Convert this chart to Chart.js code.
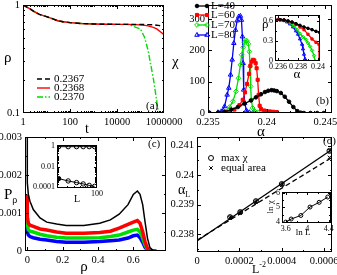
<!DOCTYPE html>
<html>
<head>
<meta charset="utf-8">
<script src="https://cdn.jsdelivr.net/npm/chart.js@4.4.1/dist/chart.umd.min.js"></script>
<style>
  html, body { margin: 0; padding: 0; background: #fff; }
  #wrap { position: relative; width: 337px; height: 275px; overflow: hidden; }
  canvas { position: absolute; left: 0; top: 0; }
</style>
</head>
<body>
<div id="wrap"></div>
<script>
// ---------- data ----------

// (a) rho(t) for three alphas
const tA = [1, 2, 3, 5, 10, 20, 30, 50, 100, 300, 1000, 3000, 10000, 30000, 100000, 150000, 210000, 350000, 490000, 570000, 700000, 1000000];
const rho2367 = [1, 0.92, 0.867, 0.82, 0.78, 0.74, 0.715, 0.70, 0.686, 0.674, 0.667, 0.664, 0.662, 0.661, 0.66, 0.659, 0.658, 0.655, 0.65, 0.647, 0.643, 0.635];
const rho2368 = [1, 0.92, 0.867, 0.82, 0.78, 0.74, 0.715, 0.70, 0.686, 0.674, 0.667, 0.664, 0.662, 0.661, 0.655, 0.648, 0.64, 0.62, 0.6, 0.585, 0.565, 0.53];
const rho2370 = [1, 0.92, 0.867, 0.82, 0.78, 0.74, 0.715, 0.70, 0.686, 0.674, 0.667, 0.664, 0.662, 0.66, 0.6, 0.5, 0.38, 0.21, 0.13, 0.1, 0.075, 0.05];
const alphaNames = ['0.2367', '0.2368', '0.2370'];

// (b) susceptibility chi(alpha)
const sizes = ['L=40', 'L=60', 'L=70', 'L=80'];
const aL40 = [0.23514, 0.23585, 0.23641, 0.23697, 0.23754, 0.2381, 0.23866, 0.23908, 0.23951, 0.23985, 0.24013, 0.24041, 0.24063, 0.24086, 0.2412, 0.24154, 0.2419, 0.24227, 0.24261, 0.24289, 0.24317, 0.24373, 0.2443, 0.24486];
const chiL40 = [0, 1, 4, 11, 19, 30, 40, 50, 60, 67, 71, 73, 72, 70, 64, 52, 36, 19, 6, 1, 0, 0, 0, 0];
const aL60 = [0.23599, 0.23669, 0.23725, 0.23768, 0.23796, 0.23815, 0.23832, 0.23849, 0.23861, 0.23872, 0.23883, 0.23894, 0.23906, 0.23914, 0.23923, 0.23931, 0.2394, 0.23951, 0.23979, 0.23999, 0.24027, 0.24056, 0.24085];
const chiL60 = [0, 3, 11, 25, 42, 66, 93, 125, 151, 164, 170, 168, 159, 143, 106, 58, 23, 13, 8, 6, 5, 4, 3];
const aL70 = [0.23599, 0.23641, 0.23683, 0.23711, 0.23739, 0.23759, 0.23776, 0.23787, 0.23799, 0.2381, 0.23821, 0.23832, 0.23844, 0.23852, 0.23858, 0.23863, 0.23869, 0.2388, 0.239, 0.23923, 0.23951];
const chiL70 = [0, 4, 19, 37, 69, 111, 154, 186, 210, 225, 232, 230, 221, 196, 148, 85, 42, 16, 5, 2, 0];
const aL80 = [0.23514, 0.23585, 0.23613, 0.23641, 0.23663, 0.23677, 0.23692, 0.23706, 0.2372, 0.23734, 0.23748, 0.23762, 0.23776, 0.23785, 0.23793, 0.23799, 0.23804, 0.23813, 0.23827, 0.23852, 0.2388];
const chiL80 = [0, 2, 5, 21, 58, 80, 122, 170, 223, 265, 295, 308, 310, 297, 244, 159, 74, 32, 8, 2, 0];

// (b) inset: rho(alpha)
const inA40 = [0.2357, 0.2362, 0.2366, 0.237, 0.2374, 0.2378, 0.2382, 0.2386, 0.239, 0.2394, 0.2398, 0.2402];
const inR40 = [0.62, 0.62, 0.615, 0.6, 0.585, 0.56, 0.535, 0.51, 0.49, 0.47, 0.445, 0.42];
const inA60 = [0.2357, 0.2362, 0.2366, 0.237, 0.2374, 0.2378, 0.2382, 0.2386, 0.239, 0.2394, 0.2398, 0.2401, 0.2401];
const inR60 = [0.62, 0.62, 0.615, 0.6, 0.58, 0.55, 0.51, 0.47, 0.4, 0.33, 0.28, 0.25, 0];
const inA70 = [0.2357, 0.2362, 0.2366, 0.237, 0.2373, 0.2376, 0.2379, 0.2382, 0.2385, 0.2388, 0.239, 0.2392, 0.2394, 0.2396, 0.2397];
const inR70 = [0.62, 0.62, 0.61, 0.59, 0.56, 0.52, 0.47, 0.41, 0.36, 0.32, 0.27, 0.22, 0.16, 0.08, 0.0];
const inA80 = [0.2357, 0.236, 0.2363, 0.2366, 0.2369, 0.2372, 0.2375, 0.2378, 0.238, 0.2382, 0.2384, 0.2385, 0.2386, 0.2387, 0.2388];
const inR80 = [0.62, 0.62, 0.615, 0.605, 0.585, 0.555, 0.51, 0.45, 0.4, 0.33, 0.25, 0.18, 0.1, 0.03, 0];

// (c) distributions P(rho)
const rhoC = [0, 0, 0.006, 0.015, 0.034, 0.072, 0.11, 0.166, 0.22, 0.32, 0.41, 0.47, 0.52, 0.57, 0.6, 0.623, 0.638, 0.653, 0.666, 0.68, 0.694, 0.713, 0.73];
const pL40 = [0.003, 0.0018, 0.00149, 0.00131, 0.00109, 0.00087, 0.00076, 0.00071, 0.00067, 0.00067, 0.00073, 0.00082, 0.00097, 0.00122, 0.00149, 0.00158, 0.00149, 0.00122, 0.00078, 0.00034, 0.00009, 0.00001, 0];
const pL60 = [0.00149, 0.0009, 0.00073, 0.00068, 0.00065, 0.00058, 0.00055, 0.0005, 0.00047, 0.00047, 0.00049, 0.00052, 0.0006, 0.0007, 0.00076, 0.0008, 0.00073, 0.00051, 0.00025, 0.00007, 0, 0, 0];
const pL70 = [0.00118, 0.0007, 0.00056, 0.00052, 0.0005, 0.00044, 0.0004, 0.00036, 0.00034, 0.00034, 0.00035, 0.00038, 0.00042, 0.0005, 0.00055, 0.00057, 0.0005, 0.00034, 0.00016, 0.00004, 0, 0, 0];
const pL80 = [0.00096, 0.0005, 0.00042, 0.00038, 0.00035, 0.00031, 0.00029, 0.00025, 0.00023, 0.00023, 0.00025, 0.00027, 0.00029, 0.00034, 0.0004, 0.00042, 0.00035, 0.00023, 0.0001, 0.00003, 0, 0, 0];

// (c) inset: probabilities vs L
const inL = [31.5, 42, 54, 66, 79, 93];
const inTop = [0.86, 0.86, 0.86, 0.86, 0.86, 0.86];
const inBottom = [0.00066, 0.00039, 0.00027, 0.0002, 0.000145, 0.000117];

// (d) pseudo-critical points, x = 1/L^2 for L = 80, 70, 60, 50, 40
const invL2 = [0.000156, 0.000204, 0.000278, 0.0004, 0.000625];
const alphaMaxChi = [0.23858, 0.23875, 0.23912, 0.2397, 0.24082];
const alphaEqArea = [0.23855, 0.23872, 0.23908, 0.23966, 0.2406];
const alphaErr = [0.00004, 0.00004, 0.00004, 0.00004, 0.00004];
const fitX = [0, 0.000637];
const fitMaxChi = [0.23777, 0.24087];
const fitEqArea = [0.2378, 0.2406];

// (d) inset: ln chi vs ln L
const lnL = [3.6, 3.7, 3.88, 4.05, 4.22, 4.38];
const lnChi = [4.0, 4.21, 4.45, 5.02, 5.34, 5.7];

// ---------- helpers ----------
const W = 337, H = 275;
const serif = "'Liberation Serif', 'DejaVu Serif', serif";
const pts = (xs, ys) => xs.map((x, i) => ({ x: x, y: ys[i] }));
const logMinor = (lo, hi) => {
  const out = [];
  for (let d = lo; d < hi; d *= 10) for (let k = 2; k <= 9; k++) out.push(d * k);
  return out;
};

function makeChart(spec) {
  const b = spec.box;
  const cv = document.createElement('canvas');
  cv.width = W; cv.height = H;
  document.getElementById('wrap').appendChild(cv);
  const fs = spec.fontSize || 10.5;
  const yW = Math.min(36, b.l), xH = Math.min(24, H - b.b);
  const axis = (ax, horiz) => ({
    type: ax.type || 'linear',
    min: ax.min, max: ax.max,
    grid: { display: false, drawTicks: false },
    border: { display: false },
    ticks: {
      autoSkip: false, maxRotation: 0, minRotation: 0,
      padding: ax.pad != null ? ax.pad : 3,
      color: '#000', font: { family: serif, size: fs },
      callback: (v, i) => ax.labels[i]
    },
    afterBuildTicks: s => { s.ticks = ax.ticks.map(v => ({ value: v })); },
    afterFit: s => {
      if (horiz) { s.height = xH; s.paddingLeft = 0; s.paddingRight = 0; }
      else { s.width = yW; s.paddingTop = 0; s.paddingBottom = 0; }
    }
  });

  const deco = {
    id: 'deco',
    beforeDraw(chart) {
      if (!spec.fill) return;
      const a = chart.chartArea, ctx = chart.ctx;
      ctx.save();
      ctx.fillStyle = '#fff';
      ctx.fillRect(a.left, a.top, a.right - a.left, a.bottom - a.top);
      ctx.restore();
    },
    afterDatasetsDraw(chart) {
      const { ctx, chartArea: a, scales: { x, y } } = chart;
      ctx.save();
      // error bars
      chart.data.datasets.forEach(ds => {
        if (!ds.errY) return;
        ctx.strokeStyle = '#000'; ctx.lineWidth = 1;
        ds.data.forEach((p, i) => {
          const px = Math.round(x.getPixelForValue(p.x)) + 0.5;
          const y1 = y.getPixelForValue(p.y - ds.errY[i]), y2 = y.getPixelForValue(p.y + ds.errY[i]);
          ctx.beginPath();
          ctx.moveTo(px, y1); ctx.lineTo(px, y2);
          ctx.moveTo(px - 2, y1); ctx.lineTo(px + 2, y1);
          ctx.moveTo(px - 2, y2); ctx.lineTo(px + 2, y2);
          ctx.stroke();
        });
      });
      // frame and inward ticks
      const big = spec.tick || 4, small = spec.minorTick || 2;
      ctx.strokeStyle = '#000'; ctx.lineWidth = 1;
      ctx.beginPath();
      const hx = (vals, len) => vals.forEach(v => {
        const p = Math.round(x.getPixelForValue(v)) + 0.5;
        if (p < a.left || p > a.right) return;
        ctx.moveTo(p, a.bottom); ctx.lineTo(p, a.bottom - len);
        ctx.moveTo(p, a.top); ctx.lineTo(p, a.top + len);
      });
      const vy = (vals, len) => vals.forEach(v => {
        const p = Math.round(y.getPixelForValue(v)) + 0.5;
        if (p < a.top || p > a.bottom) return;
        ctx.moveTo(a.left, p); ctx.lineTo(a.left + len, p);
        ctx.moveTo(a.right, p); ctx.lineTo(a.right - len, p);
      });
      hx(spec.x.ticks, big); hx(spec.x.minor || [], small);
      vy(spec.y.ticks, big); vy(spec.y.minor || [], small);
      ctx.stroke();
      ctx.strokeRect(Math.round(a.left) + 0.5, Math.round(a.top) + 0.5,
        Math.round(a.right - a.left) - 1, Math.round(a.bottom - a.top) - 1);
      ctx.restore();
    },
    afterDraw(chart) {
      const ctx = chart.ctx;
      ctx.save();
      ctx.fillStyle = '#000';
      ctx.textBaseline = 'middle';
      (spec.texts || []).forEach(t => {
        ctx.save();
        ctx.translate(t.x, t.y);
        if (t.rot) ctx.rotate(t.rot);
        ctx.font = (t.size || 10) + 'px ' + serif;
        ctx.textAlign = t.align || 'left';
        ctx.fillText(t.t, 0, 0);
        let w = ctx.measureText(t.t).width;
        if (t.align === 'center') w = w / 2;
        if (t.sub) {
          ctx.font = (t.subSize || 8) + 'px ' + serif;
          ctx.textAlign = 'left';
          ctx.fillText(t.sub, w, (t.size || 10) * 0.35);
        }
        if (t.sup) {
          ctx.font = (t.subSize || 8) + 'px ' + serif;
          ctx.textAlign = 'left';
          ctx.fillText(t.sup, w, -(t.size || 10) * 0.4);
        }
        ctx.restore();
      });
      // legend entries drawn with the dataset styles
      (spec.legend || []).forEach(e => {
        const ds = chart.data.datasets[e.ds];
        ctx.save();
        if (e.line) {
          ctx.strokeStyle = ds.borderColor;
          ctx.lineWidth = ds.borderWidth || 1;
          ctx.setLineDash(ds.borderDash || []);
          ctx.beginPath(); ctx.moveTo(e.x1, e.y); ctx.lineTo(e.x2, e.y); ctx.stroke();
          ctx.setLineDash([]);
        }
        if (e.marks) {
          const r = e.r || ds.pointRadius;
          ctx.strokeStyle = ds.pointBorderColor || ds.borderColor;
          ctx.fillStyle = Array.isArray(ds.pointBackgroundColor) ? ds.pointBackgroundColor[1] : ds.pointBackgroundColor;
          ctx.lineWidth = ds.pointBorderWidth || 1;
          e.marks.forEach(mx => Chart.helpers.drawPoint(ctx, { pointStyle: ds.pointStyle, radius: r, borderWidth: ctx.lineWidth, rotation: 0 }, mx, e.y));
        }
        ctx.font = (e.size || 11) + 'px ' + serif;
        ctx.fillStyle = '#000';
        ctx.textBaseline = 'middle';
        ctx.fillText(e.text, e.tx, e.y);
        ctx.restore();
      });
      ctx.restore();
    }
  };

  return new Chart(cv, {
    type: 'scatter',
    data: { datasets: spec.datasets },
    options: {
      responsive: false, animation: false, devicePixelRatio: 1, events: [],
      layout: { padding: { left: b.l - yW, top: b.t, right: W - b.r, bottom: H - b.b - xH } },
      plugins: { legend: { display: false }, tooltip: { enabled: false } },
      scales: { x: axis(spec.x, true), y: axis(spec.y, false) }
    },
    plugins: [deco]
  });
}

const lineDs = (data, color, extra) => Object.assign({
  data: data, showLine: true, borderColor: color, backgroundColor: color,
  borderWidth: 1.3, pointRadius: 0, tension: 0
}, extra || {});

const mark = (style, color, r, filled) => ({
  pointStyle: style, pointRadius: r, pointBorderColor: color, pointBorderWidth: 1,
  pointBackgroundColor: filled ? color : 'rgba(0,0,0,0)'
});

const BLACK = '#000000', RED = '#ff0000', GREEN = '#00dd00', BLUE = '#0000ff';

// ---------- (a) ----------
makeChart({
  box: { l: 23, t: 5, r: 164, b: 113 },
  x: { type: 'logarithmic', min: 1, max: 1000000, ticks: [1, 100, 10000, 1000000], labels: ['1', '100', '10000', '1000000'], minor: logMinor(1, 1000000).concat([10, 1000, 100000]) },
  y: { type: 'logarithmic', min: 0.1, max: 1, ticks: [0.1, 1], labels: ['0.1', '1'], minor: [0.2, 0.3, 0.4, 0.5, 0.6, 0.7, 0.8, 0.9] },
  datasets: [
    lineDs(pts(tA, rho2367), BLACK, { borderDash: [5, 3], borderWidth: 1.4 }),
    lineDs(pts(tA, rho2368), RED, { borderWidth: 1.4 }),
    lineDs(pts(tA, rho2370), GREEN, { borderDash: [6, 2, 1.5, 2], borderWidth: 1.4 })
  ],
  legend: [
    { ds: 0, line: true, x1: 37, x2: 50, y: 79, tx: 54, text: alphaNames[0] },
    { ds: 1, line: true, x1: 37, x2: 50, y: 88, tx: 54, text: alphaNames[1] },
    { ds: 2, line: true, x1: 37, x2: 50, y: 97, tx: 54, text: alphaNames[2] }
  ],
  texts: [
    { t: 'ρ', x: 4, y: 58, size: 15 },
    { t: 't', x: 85, y: 129, size: 14 },
    { t: '(a)', x: 146, y: 106, size: 11 }
  ]
});

// ---------- (b) ----------
makeChart({
  box: { l: 208, t: 5, r: 333, b: 113 },
  x: { min: 0.235, max: 0.24556, ticks: [0.235, 0.24, 0.245], labels: ['0.235', '0.24', '0.245'], minor: [0.236, 0.237, 0.238, 0.239, 0.241, 0.242, 0.243, 0.244] },
  y: { min: 0, max: 345, ticks: [0, 100, 200, 300], labels: ['0', '100', '200', '300'], minor: [50, 150, 250] },
  datasets: [
    lineDs(pts(aL40, chiL40), BLACK, mark('circle', BLACK, 1.8, true)),
    lineDs(pts(aL60, chiL60), RED, mark('rect', RED, 2.2, true)),
    lineDs(pts(aL70, chiL70), GREEN, mark('rectRot', GREEN, 2.4, false)),
    lineDs(pts(aL80, chiL80), BLUE, mark('triangle', BLUE, 2.6, false))
  ],
  legend: [
    { ds: 0, line: true, marks: [197, 207], x1: 197, x2: 207, y: 6, tx: 211, text: sizes[0] },
    { ds: 1, line: true, marks: [197, 207], x1: 197, x2: 207, y: 15, tx: 211, text: sizes[1] },
    { ds: 2, line: true, marks: [197, 207], x1: 197, x2: 207, y: 25, tx: 211, text: sizes[2] },
    { ds: 3, line: true, marks: [197, 207], x1: 197, x2: 207, y: 35, tx: 211, text: sizes[3] }
  ],
  texts: [
    { t: 'χ', x: 172, y: 62, size: 15 },
    { t: 'α', x: 261, y: 132, size: 15, align: 'center' },
    { t: '(b)', x: 316, y: 101, size: 11 }
  ]
});

// ---------- (b) inset ----------
makeChart({
  box: { l: 275, t: 15, r: 320, b: 61 },
  fill: true, fontSize: 8, tick: 3, minorTick: 2,
  x: { min: 0.2357, max: 0.2402, ticks: [0.236, 0.238, 0.24], labels: ['0.236', '0.238', '0.24'], minor: [0.237, 0.239], pad: 1 },
  y: { min: 0, max: 0.69, ticks: [0, 0.3, 0.6], labels: ['0', '0.3', '0.6'], minor: [0.15, 0.45], pad: 2 },
  datasets: [
    lineDs(pts(inA40, inR40), BLACK, mark('circle', BLACK, 1.3, true)),
    lineDs(pts(inA60, inR60), RED, mark('rect', RED, 1.6, true)),
    lineDs(pts(inA70, inR70), GREEN, mark('rectRot', GREEN, 1.8, false)),
    lineDs(pts(inA80, inR80), BLUE, mark('triangle', BLUE, 1.8, false))
  ],
  texts: [
    { t: 'ρ', x: 262, y: 25, size: 13 },
    { t: 'α', x: 297, y: 75, size: 13, align: 'center' }
  ]
});

// ---------- (c) ----------
makeChart({
  box: { l: 25, t: 137, r: 166, b: 251 },
  x: { min: -0.013, max: 0.785, ticks: [0, 0.2, 0.4, 0.6], labels: ['0', '0.2', '0.4', '0.6'], minor: [0.1, 0.3, 0.5, 0.7] },
  y: { min: 0, max: 0.003, ticks: [0, 0.001, 0.002, 0.003], labels: ['0', '0.001', '0.002', '0.003'], minor: [0.0005, 0.0015, 0.0025] },
  datasets: [
    lineDs(pts(rhoC, pL40), BLACK, { borderWidth: 1.5 }),
    lineDs(pts(rhoC, pL60), RED, { borderWidth: 3.5 }),
    lineDs(pts(rhoC, pL70), GREEN, { borderWidth: 3.5 }),
    lineDs(pts(rhoC, pL80), BLUE, { borderWidth: 3.5 })
  ],
  texts: [
    { t: 'P', x: 4, y: 195, size: 15, sub: 'ρ', subSize: 10 },
    { t: 'ρ', x: 84, y: 267, size: 15, align: 'center' },
    { t: '(c)', x: 148, y: 144, size: 11 }
  ]
});

// ---------- (c) inset ----------
makeChart({
  box: { l: 57, t: 145, r: 97, b: 188 },
  fill: true, fontSize: 8, tick: 3, minorTick: 2,
  x: { type: 'logarithmic', min: 30, max: 100, ticks: [100], labels: ['100'], minor: [40, 50, 60, 70, 80, 90], pad: 1 },
  y: { type: 'logarithmic', min: 0.00008, max: 1.25, ticks: [0.0001, 0.01, 1], labels: ['0.0001', '0.01', '1'], minor: logMinor(0.0001, 1).concat([0.001, 0.1]), pad: 2 },
  datasets: [
    lineDs(pts(inL, inTop), BLACK, Object.assign(mark('circle', BLACK, 2.2, false), { borderWidth: 1 })),
    lineDs(pts(inL, inBottom), BLACK, Object.assign(mark('circle', BLACK, 2.2, false), { borderWidth: 1, pointBackgroundColor: ['#000', 'rgba(0,0,0,0)', 'rgba(0,0,0,0)', 'rgba(0,0,0,0)', 'rgba(0,0,0,0)', 'rgba(0,0,0,0)'] }))
  ],
  texts: [
    { t: 'L', x: 77, y: 199, size: 10, align: 'center' }
  ]
});

// ---------- (d) ----------
makeChart({
  box: { l: 197, t: 137, r: 334, b: 252 },
  x: { min: 0, max: 0.000637, ticks: [0, 0.0002, 0.0004, 0.0006], labels: ['0', '0.0002', '0.0004', '0.0006'], minor: [0.0001, 0.0003, 0.0005] },
  y: { min: 0.2374, max: 0.24129, ticks: [0.238, 0.239, 0.24, 0.241], labels: ['0.238', '0.239', '0.24', '0.241'], minor: [0.2375, 0.2385, 0.2395, 0.2405] },
  datasets: [
    lineDs(pts(fitX, fitMaxChi), BLACK, { borderWidth: 1.3 }),
    lineDs(pts(fitX, fitEqArea), BLACK, { borderWidth: 1.3, borderDash: [5, 3] }),
    Object.assign({ data: pts(invL2, alphaMaxChi), showLine: false, errY: alphaErr }, mark('circle', BLACK, 2.5, false)),
    Object.assign({ data: pts(invL2, alphaEqArea), showLine: false }, mark('crossRot', BLACK, 2.5, false))
  ],
  legend: [
    { ds: 2, marks: [211], y: 158, tx: 221, text: 'max χ' },
    { ds: 3, marks: [211], y: 168, tx: 221, text: 'equal area' }
  ],
  texts: [
    { t: 'α', x: 178, y: 190, size: 14, sub: 'L', subSize: 8 },
    { t: 'L', x: 252, y: 270, size: 12, sup: '-2', subSize: 8 },
    { t: '(d)', x: 323, y: 141, size: 11 }
  ]
});

// ---------- (d) inset ----------
makeChart({
  box: { l: 282, t: 192, r: 331, b: 223 },
  fill: true, fontSize: 8, tick: 3, minorTick: 2,
  x: { min: 3.53, max: 4.44, ticks: [3.6, 4, 4.4], labels: ['3.6', '4', '4.4'], minor: [3.8, 4.2], pad: 1 },
  y: { min: 3.94, max: 6.04, ticks: [4, 5, 6], labels: ['4', '5', '6'], minor: [4.5, 5.5], pad: 2 },
  datasets: [
    lineDs(pts(lnL, lnChi), BLACK, Object.assign(mark('circle', BLACK, 2, false), { borderWidth: 1 }))
  ],
  texts: [
    { t: 'ln χ', x: 271, y: 207, size: 9, rot: -Math.PI / 2, align: 'center' },
    { t: 'ln L', x: 303, y: 233, size: 9, align: 'center' }
  ]
});
</script>
</body>
</html>
